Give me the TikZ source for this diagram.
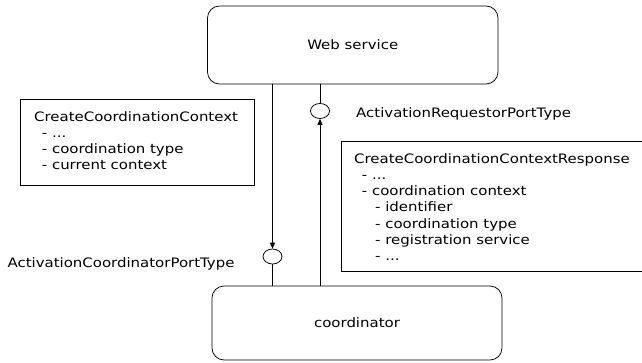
\documentclass[tikz,border=0pt]{standalone}
\usepackage{fontspec}
\setmainfont{DejaVu Sans}[FakeStretch=1.15]
\usetikzlibrary{arrows.meta,shapes.geometric}
\begin{document}
\begin{tikzpicture}[x=1pt,y=-1pt,
  comp/.style={draw, rounded corners=12pt, line width=0.75pt, inner sep=0pt, font=\fontsize{13}{16}\selectfont},
  msgbox/.style={draw, line width=0.75pt, inner sep=0pt},
  port/.style={draw, ellipse, line width=0.75pt, minimum width=19pt, minimum height=15pt, inner sep=0pt},
  txt/.style={font=\fontsize{13}{16}\selectfont, inner sep=0pt, anchor=base west},
  conn/.style={line width=0.75pt},
  arr/.style={conn, -{Triangle[length=6pt,width=5pt]}}]
\useasboundingbox (0,0) rectangle (642,362);
\clip (0,0) rectangle (642,362);
% components
\node[comp, minimum width=290.5pt, minimum height=78pt] (web) at (352.75,45) {Web service};
\node[comp, minimum width=290pt, minimum height=74pt] (coord) at (357,323) {coordinator};
% message boxes
\node[msgbox, minimum width=233.5pt, minimum height=86.5pt] (req) at (137.25,142.25) {};
\node[msgbox, minimum width=319pt, minimum height=130.2pt] (resp) at (500.5,206.6) {};
% ports
\node[port] (pc) at (272.5,256.5) {};
\node[port] (pr) at (320,111) {};
% connectors
\draw[arr] (web.south -| pc) -- (pc.north);
\draw[conn] (pc.south) -- (pc.south |- coord.north);
\draw[arr] (coord.north -| pr) -- (pr.south);
\draw[conn] (pr.north) -- (pr.north |- web.south);
% port labels
\node[txt] (lreq) at (356,117) {ActivationRequestorPortType};
\node[txt] (lcoord) at (7.4,267) {ActivationCoordinatorPortType};
% request text
\node[txt] (q1) at (34,121) {CreateCoordinationContext};
\node[txt] (q2) at (41.7,137.2) {- ...};
\node[txt] (q3) at (41.7,153.4) {- coordination type};
\node[txt] (q4) at (41.7,169.6) {- current context};
% response text
\node[txt] (s1) at (354,163.3) {CreateCoordinationContextResponse};
\node[txt] (s2) at (361.7,179.5) {- ...};
\node[txt] (s3) at (361.7,195.7) {- coordination context};
\node[txt] (s4) at (375,211.9) {- identifier};
\node[txt] (s5) at (375,228.1) {- coordination type};
\node[txt] (s6) at (375,244.3) {- registration service};
\node[txt] (s7) at (375,260.5) {- ...};
\end{tikzpicture}
\end{document}
